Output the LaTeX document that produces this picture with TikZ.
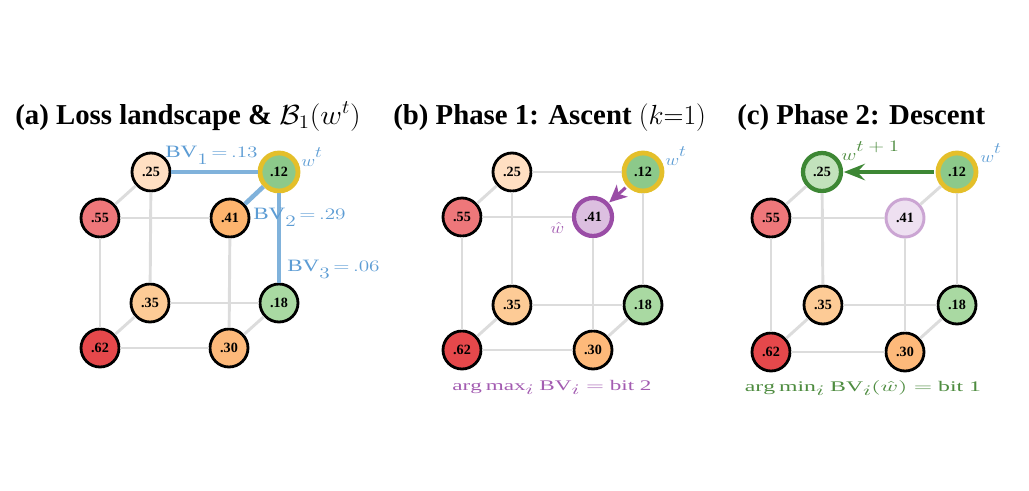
\documentclass[tikz,border=0pt]{standalone}
\usepackage{fontspec}
\setmainfont{Liberation Serif}
\usepackage{graphicx}
\usetikzlibrary{arrows.meta}
\definecolor{edgegray}{HTML}{DCDCDC}
\definecolor{bvblue}{HTML}{80B2DB}
\definecolor{bvtext}{HTML}{5C9CD4}
\definecolor{ringyellow}{HTML}{E4BF2A}
\definecolor{purp}{HTML}{9A4DA6}
\definecolor{purptext}{HTML}{A35CB1}
\definecolor{dgreen}{HTML}{3D8734}
\definecolor{gtext}{HTML}{4E8C40}
\definecolor{f25}{HTML}{FFDFC2}
\definecolor{f12}{HTML}{8CC98A}
\definecolor{f55}{HTML}{EE777A}
\definecolor{f41}{HTML}{FDB46E}
\definecolor{f35}{HTML}{FDCB96}
\definecolor{f18}{HTML}{A9D9A2}
\definecolor{f62}{HTML}{E5484B}
\definecolor{f30}{HTML}{FDB97A}
\definecolor{fhat}{HTML}{DCBFE0}
\definecolor{fhatl}{HTML}{EEE0F1}
\definecolor{dhatl}{HTML}{CBA5D3}
\definecolor{fnew}{HTML}{C2E2BC}
\begin{document}
\begin{tikzpicture}[x=0.75pt,y=-0.75pt,
  v/.style={circle, draw=black, line width=2.1pt, minimum size=28.5pt, inner sep=0pt,
            font=\fontsize{10.6}{11}\selectfont\bfseries},
  cur/.style={v, draw=ringyellow, line width=3.6pt},
  ge/.style={draw=edgegray, line width=2.2pt},
  be/.style={draw=bvblue, line width=3.4pt},
  ttl/.style={anchor=base west, inner sep=0pt, font=\fontsize{21.6}{25}\selectfont\bfseries},
  lab/.style={inner sep=0pt, anchor=base west, font=\fontsize{13}{13}\selectfont},
  blab/.style={inner sep=0pt, anchor=base, font=\fontsize{11}{11}\selectfont},
  parrow/.style={draw=purp, line width=2.3pt, -{Stealth[length=13pt, width=12pt, inset=3.5pt]}},
  garrow/.style={draw=dgreen, line width=2.3pt, -{Stealth[length=16pt, width=12.5pt, inset=6pt]}}
]
\useasboundingbox (0,0) rectangle (1029,490);

% titles
\node[ttl] (ta) at (15,124) {(a) Loss landscape \& \scalebox{1.08}[1]{$\mathcal{B}_1(w^t)$}};
\node[ttl] (tb) at (393,124) {(b) Phase 1: Ascent $(k{=}1)$};
\node[ttl] (tc) at (737,124) {(c) Phase 2: Descent};

% panel (a)
\node[v, fill=f25] (a25) at (151,172) {.25};
\node[cur, fill=f12] (a12) at (279,172) {.12};
\node[v, fill=f55] (a55) at (100,218) {.55};
\node[v, fill=f41] (a41) at (230,218) {.41};
\node[v, fill=f35] (a35) at (150,303) {.35};
\node[v, fill=f18] (a18) at (279,303) {.18};
\node[v, fill=f62] (a62) at (100,348) {.62};
\node[v, fill=f30] (a30) at (229,348) {.30};

% panel (b)
\node[v, fill=f25] (b25) at (512,172) {.25};
\node[cur, fill=f12] (b12) at (643,172) {.12};
\node[v, fill=f55] (b55) at (462,217) {.55};
\node[v, draw=purp, line width=3.2pt, fill=fhat] (b41) at (593,217) {.41};
\node[v, fill=f35] (b35) at (512,305) {.35};
\node[v, fill=f18] (b18) at (643,305) {.18};
\node[v, fill=f62] (b62) at (462,350) {.62};
\node[v, fill=f30] (b30) at (593,350) {.30};

% panel (c)
\node[v, draw=dgreen, line width=3.2pt, fill=fnew] (c25) at (822,172) {.25};
\node[cur, fill=f12] (c12) at (957,172) {.12};
\node[v, fill=f55] (c55) at (771,218) {.55};
\node[v, draw=dhatl, line width=2.2pt, fill=fhatl] (c41) at (905,218) {.41};
\node[v, fill=f35] (c35) at (823,305) {.35};
\node[v, fill=f18] (c18) at (957,305) {.18};
\node[v, fill=f62] (c62) at (771,352) {.62};
\node[v, fill=f30] (c30) at (905,352) {.30};

% gray cube edges
\foreach \p in {a,b,c}{
  \foreach \u/\w in {55/41, 25/55, 25/35, 55/62, 41/30, 35/18, 62/30, 35/62, 18/30}
    \draw[ge] (\p\u) -- (\p\w);
}
\draw[ge] (b12) -- (b18);
\draw[ge] (c12) -- (c18);
\draw[ge] (b25) -- (b12);
\draw[ge] (c12) -- (c41);

% blue Hamming-ball edges
\draw[be] (a25) -- (a12);
\draw[be] (a12) -- (a41);
\draw[be] (a12) -- (a18);

% arrows
\draw[parrow, shorten <=1.5pt, shorten >=0.5pt] (b12) -- (b41);
\draw[garrow, shorten <=1.5pt, shorten >=0.5pt] (c12) -- (c25);

% labels panel (a)
\node[lab, text=bvtext] (l1) at (165,157) {\scalebox{1.33}[1]{$\mathrm{BV}$\raisebox{-0.45em}{$1$}$\mkern3mu{=}\mkern3mu.13$}};
\node[lab, text=bvtext] (l2) at (253,219) {\scalebox{1.33}[1]{$\mathrm{BV}$\raisebox{-0.45em}{$2$}$\mkern3mu{=}\mkern3mu.29$}};
\node[lab, text=bvtext] (l3) at (287,271) {\scalebox{1.33}[1]{$\mathrm{BV}$\raisebox{-0.45em}{$3$}$\mkern3mu{=}\mkern3mu.06$}};
\node[lab, text=bvtext] (wa) at (301,166) {\scalebox{1.2}[1]{$w$\raisebox{0.5em}{$t$}}};

% labels panel (b)
\node[lab, text=bvtext] (wb) at (665,165) {\scalebox{1.2}[1]{$w$\raisebox{0.5em}{$t$}}};
\node[lab, text=purptext] (wh) at (550,233) {\scalebox{1.2}[1]{$\hat{w}$}};
\node[blab, text=purptext] (bb) at (552,390) {\scalebox{1.58}[1]{$\arg\max$\raisebox{-0.3em}{$i$}$\ \mathrm{BV}$\raisebox{-0.3em}{$i$}$\;=$ bit 2}};

% labels panel (c)
\node[lab, text=gtext] (wn) at (841,160) {\scalebox{1.3}[1]{$w$\raisebox{0.5em}{$t+1$}}};
\node[lab, text=bvtext] (wc) at (980,162) {\scalebox{1.2}[1]{$w$\raisebox{0.5em}{$t$}}};
\node[blab, text=gtext] (bc) at (863,391) {\scalebox{1.62}[1]{$\arg\min$\raisebox{-0.3em}{$i$}$\ \mathrm{BV}$\raisebox{-0.3em}{$i$}$(\hat{w})=$ bit 1}};
\end{tikzpicture}
\end{document}
